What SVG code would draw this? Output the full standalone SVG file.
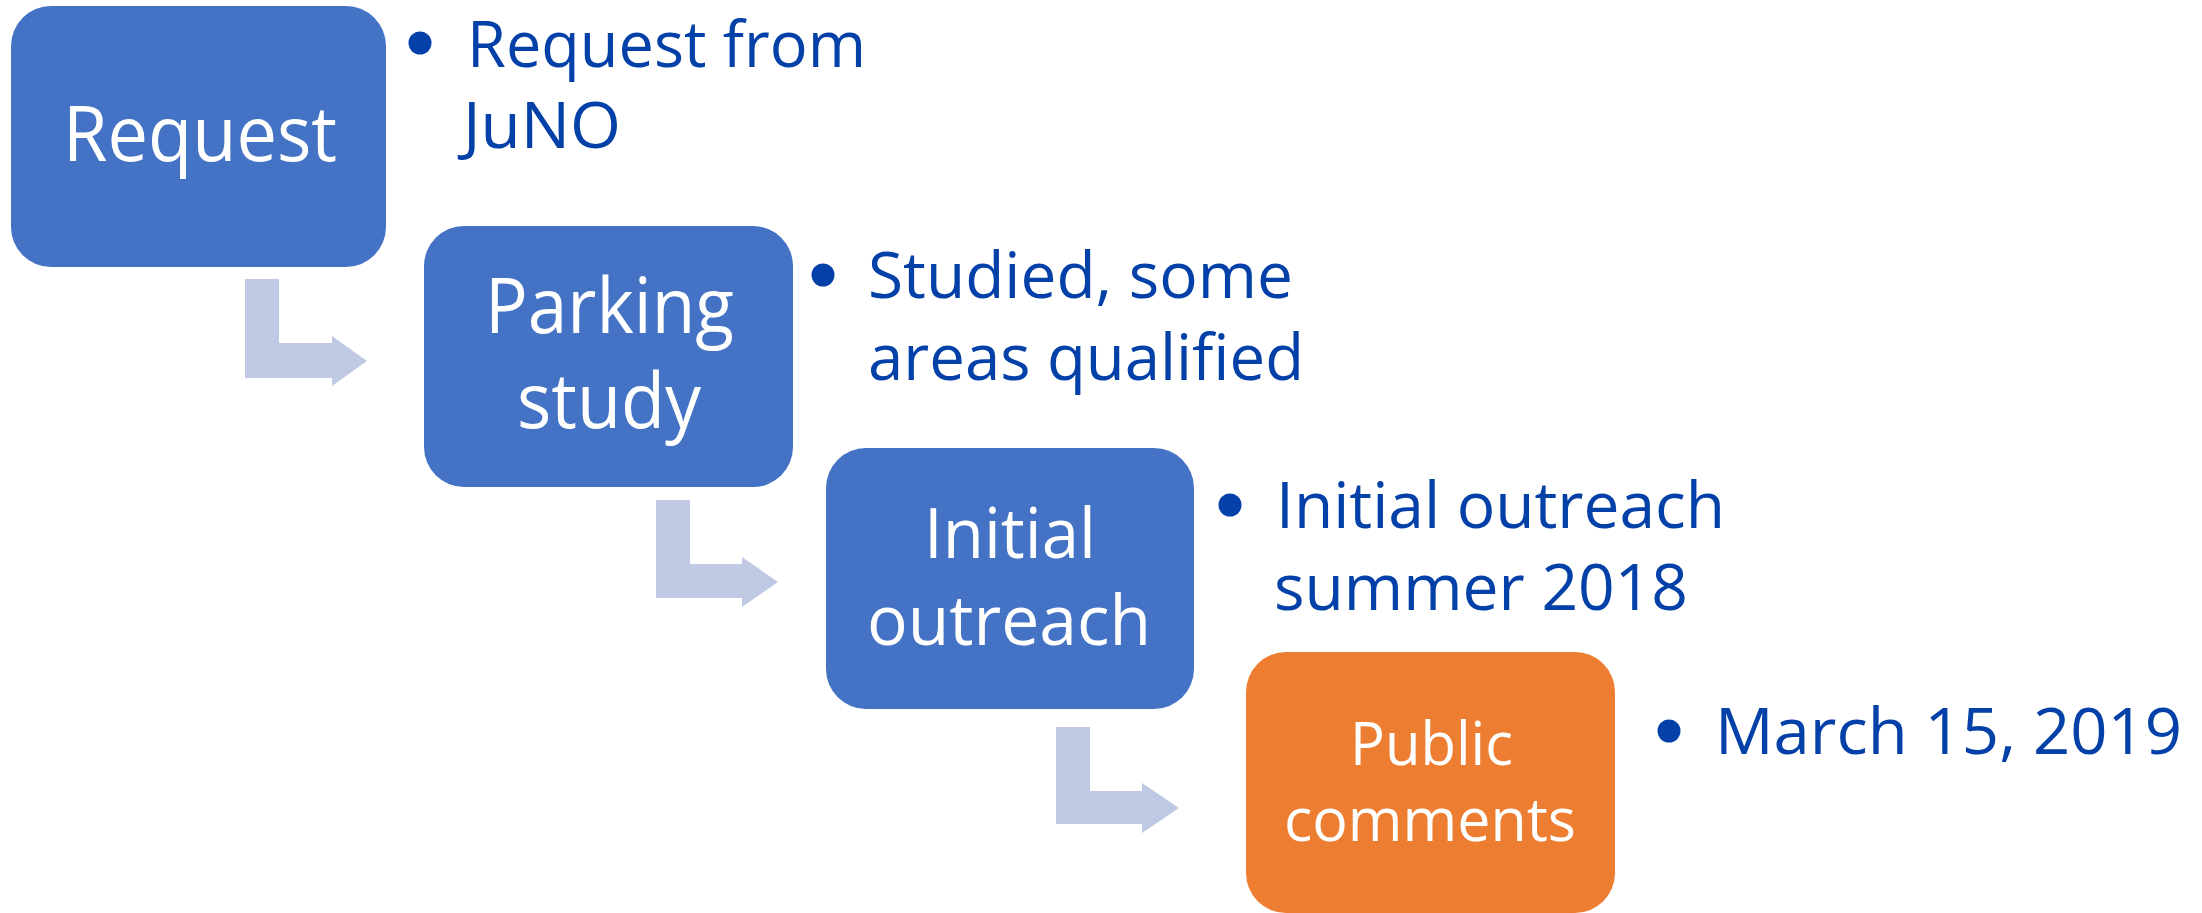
<svg xmlns="http://www.w3.org/2000/svg" width="2202" height="913" viewBox="0 0 2202 913">
<style>
.box{fill:#4472C4}
.box2{fill:#ED7D31}
.bt{font-family:"Open Sans","Liberation Sans",sans-serif;fill:#FFFFFF}
.tx{font-family:"Open Sans","Liberation Sans",sans-serif;fill:#0340A7;font-size:64px}
.dot{fill:#0340A7}
.arr{fill:#BFC9E3}
</style>
<rect width="2202" height="913" fill="#FFFFFF"/>
<g id="connectors">
<polygon class="arr" points="245,279 279,279 279,343 332,343 332,336 367,361 332,386 332,378 245,378"/>
<polygon class="arr" points="656,500 690,500 690,564 742,564 742,557 778,582 742,607 742,598 656,598"/>
<polygon class="arr" points="1056,727 1090,727 1090,791 1142,791 1142,783 1179,808 1142,833 1142,824 1056,824"/>
</g>
<g id="request">
<rect class="box" x="11" y="6" width="375" height="261" rx="40" ry="40"/>
<text class="bt" x="63" y="161" font-size="76" textLength="274" lengthAdjust="spacingAndGlyphs">Request</text>
</g>
<g id="request-note">
<circle class="dot" cx="420" cy="43" r="11.5"/>
<text class="tx" x="467" y="67" textLength="399" lengthAdjust="spacingAndGlyphs">Request from</text>
<text class="tx" x="463" y="148" textLength="158" lengthAdjust="spacingAndGlyphs">JuNO</text>
</g>
<g id="parking">
<rect class="box" x="424" y="226" width="369" height="261" rx="40" ry="40"/>
<text class="bt" x="485" y="333" font-size="76" textLength="249" lengthAdjust="spacingAndGlyphs">Parking</text>
<text class="bt" x="517" y="428" font-size="76" textLength="184" lengthAdjust="spacingAndGlyphs">study</text>
</g>
<g id="parking-note">
<circle class="dot" cx="823" cy="275" r="11.5"/>
<text class="tx" x="868" y="298" textLength="425" lengthAdjust="spacingAndGlyphs">Studied, some</text>
<text class="tx" x="868" y="380" textLength="436" lengthAdjust="spacingAndGlyphs">areas qualified</text>
</g>
<g id="initial">
<rect class="box" x="826" y="448" width="368" height="261" rx="40" ry="40"/>
<text class="bt" x="924" y="558" font-size="69" textLength="172" lengthAdjust="spacingAndGlyphs">Initial</text>
<text class="bt" x="867" y="645" font-size="69" textLength="284" lengthAdjust="spacingAndGlyphs">outreach</text>
</g>
<g id="initial-note">
<circle class="dot" cx="1230" cy="505" r="11.5"/>
<text class="tx" x="1276" y="528" textLength="449" lengthAdjust="spacingAndGlyphs">Initial outreach</text>
<text class="tx" x="1274" y="610" textLength="414" lengthAdjust="spacingAndGlyphs">summer 2018</text>
</g>
<g id="public">
<rect class="box2" x="1246" y="652" width="369" height="261" rx="40" ry="40"/>
<text class="bt" x="1350" y="765" font-size="60" textLength="163" lengthAdjust="spacingAndGlyphs">Public</text>
<text class="bt" x="1284" y="841" font-size="60" textLength="292" lengthAdjust="spacingAndGlyphs">comments</text>
</g>
<g id="public-note">
<circle class="dot" cx="1669" cy="731" r="11.5"/>
<text class="tx" x="1715" y="754" textLength="467" lengthAdjust="spacingAndGlyphs">March 15, 2019</text>
</g>
</svg>
